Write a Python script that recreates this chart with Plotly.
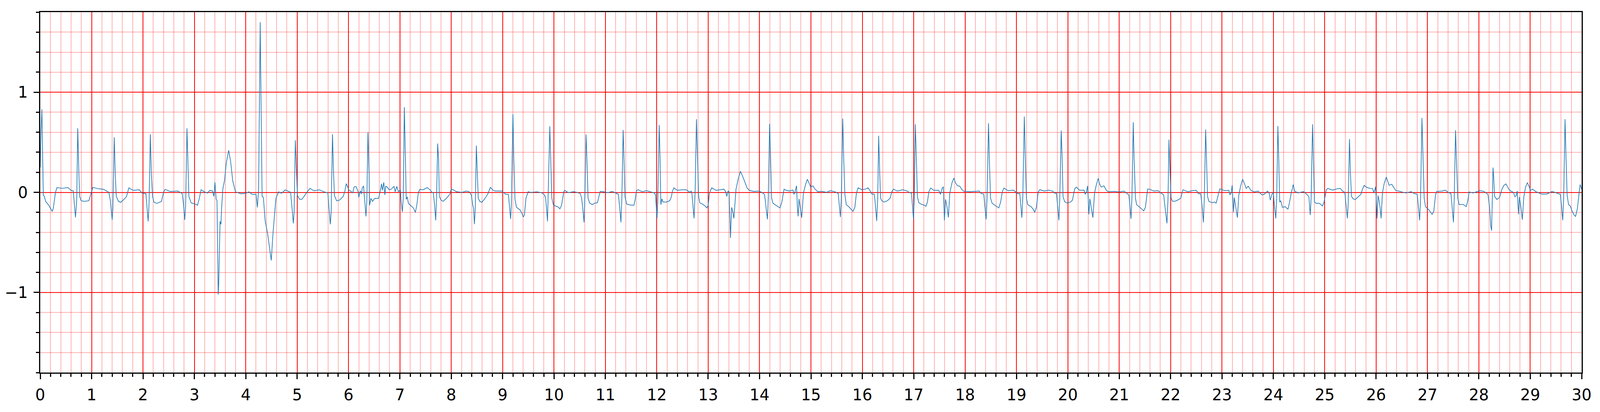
import plotly.graph_objects as go

# ECG trace, 30 s strip (time in s, amplitude in mV)
t_0 = [0, 0.015, 0.032, 0.046, 0.06, 0.08, 0.104, 0.167, 0.21, 0.234, 0.254, 0.297, 0.326, 0.427, 0.54, 0.6,
       0.643, 0.686, 0.71, 0.73, 0.753, 0.767, 0.796, 0.86, 0.946, 0.99, 1.024, 1.12, 1.234, 1.335, 1.364, 1.40,
       1.414, 1.44, 1.46, 1.48, 1.523, 1.566, 1.638, 1.68, 1.725, 1.81, 1.927, 1.984, 2.057, 2.1, 2.117, 2.143,
       2.163, 2.186, 2.215, 2.273, 2.36, 2.403, 2.43, 2.532, 2.677, 2.764, 2.79, 2.813, 2.83, 2.856, 2.88, 2.893,
       2.936, 3.02, 3.06, 3.094, 3.13, 3.196, 3.253, 3.30]
v_0 = [0.25, 0.6, 0.83, 0.45, -0.03, -0.04, -0.09, -0.13, -0.17, -0.19, -0.16, 0.0, 0.047, 0.04, 0.047, 0.02,
       0.013, -0.25, -0.08, 0.64, 0.18, -0.04, -0.084, -0.09, -0.084, -0.013, 0.05, 0.037, 0.03, 0.0, -0.08, -0.275,
       -0.16, 0.55, 0.18, -0.04, -0.09, -0.1, -0.066, -0.04, 0.045, 0.02, 0.026, -0.008, -0.013, -0.29, -0.13, 0.58,
       0.18, -0.04, -0.1, -0.11, -0.09, 0.005, 0.03, 0.008, 0.013, -0.013, -0.13, -0.275, -0.13, 0.64, 0.21, -0.04,
       -0.105, -0.118, -0.13, -0.066, 0.026, 0.005, -0.008, 0.02]

t_1 = [3.35, 3.38, 3.40, 3.425, 3.44, 3.464, 3.475, 3.50, 3.517, 3.53, 3.554, 3.587, 3.62, 3.668, 3.705, 3.748,
       3.80, 3.91, 3.995, 4.06, 4.124, 4.20, 4.227, 4.25, 4.281, 4.307, 4.318, 4.343, 4.378, 4.425, 4.496, 4.533,
       4.587, 4.64, 4.694, 4.77, 4.873, 4.898, 4.926, 4.941, 4.965, 4.989, 5.006, 5.049, 5.092, 5.135, 5.21, 5.253,
       5.328, 5.436, 5.522, 5.597, 5.619, 5.645, 5.662, 5.688, 5.709, 5.726, 5.769, 5.823, 5.898, 5.93, 5.956,
       6.006, 6.081, 6.109, 6.146, 6.189, 6.2, 6.232, 6.253, 6.268, 6.292, 6.313, 6.34, 6.357, 6.378, 6.4, 6.41,
       6.436, 6.468]
v_1 = [0.015, -0.04, 0.10, -0.07, -0.08, -1.02, -0.9, -0.29, -0.32, -0.16, 0.035, 0.12, 0.29, 0.42, 0.31, 0.11,
       0.005, -0.015, -0.01, 0.005, -0.02, -0.02, -0.15, 0.035, 1.70, 0.29, -0.04, -0.05, -0.285, -0.41, -0.68, -0.39,
       -0.06, 0.005, -0.01, 0.025, 0.0, -0.14, -0.31, -0.2, 0.52, 0.19, -0.033, -0.07, -0.07, -0.04, 0.015, 0.04,
       0.015, 0.025, 0.005, -0.005, -0.14, -0.32, -0.2, 0.58, 0.19, -0.033, -0.085, -0.078, -0.04, 0.015, 0.087,
       0.025, -0.005, 0.054, 0.058, 0.005, -0.05, 0.015, -0.015, 0.045, 0.064, -0.08, -0.24, -0.08, 0.6, 0.19, -0.13,
       -0.06, -0.09]

t_2 = [6.51, 6.585, 6.617, 6.643, 6.66, 6.686, 6.708, 6.725, 6.757, 6.79, 6.83, 6.886, 6.908, 6.94, 6.972, 7.009,
       7.026, 7.047, 7.065, 7.086, 7.108, 7.123, 7.144, 7.166, 7.22, 7.262, 7.3, 7.327, 7.36, 7.39, 7.456, 7.53,
       7.585, 7.617, 7.65, 7.675, 7.697, 7.714, 7.735, 7.753, 7.768, 7.8, 7.843, 7.907, 7.972, 7.998, 8.037, 8.1,
       8.21, 8.295, 8.35, 8.39, 8.413, 8.434, 8.45, 8.467, 8.488, 8.505, 8.525, 8.553, 8.596, 8.66, 8.714, 8.761,
       8.81, 8.854, 8.983, 9.026, 9.058, 9.112, 9.13, 9.155, 9.17, 9.2, 9.217, 9.24, 9.27, 9.337, 9.374, 9.4, 9.423,
       9.454, 9.495, 9.542]
v_2 = [-0.06, -0.06, 0.013, 0.085, 0.02, 0.1, -0.026, 0.06, 0.052, 0.026, 0.03, 0.06, 0.006, 0.058, 0.006, 0.026,
       -0.1, -0.195, -0.06, 0.85, 0.33, -0.07, -0.045, -0.11, -0.136, -0.156, -0.2, -0.136, 0.0, 0.03, 0.026, 0.048,
       0.026, 0.004, -0.006, -0.123, -0.28, -0.058, 0.487, 0.33, -0.04, -0.078, -0.09, -0.058, -0.02, 0.032, 0.026,
       0.006, 0.0, 0.013, 0.006, -0.026, -0.11, -0.16, -0.318, -0.16, 0.467, 0.253, -0.058, -0.09, -0.1, -0.058,
       -0.013, 0.05, 0.022, 0.013, 0.013, -0.006, -0.02, -0.02, -0.123, -0.266, -0.12, 0.78, 0.33, -0.07, -0.15,
       -0.175, -0.208, -0.247, -0.227, -0.058, 0.006, 0.0]

t_3 = [9.673, 9.76, 9.813, 9.835, 9.856, 9.873, 9.895, 9.918, 9.935, 9.957, 9.985, 10.028, 10.082, 10.114, 10.146,
       10.19, 10.21, 10.275, 10.382, 10.447, 10.511, 10.537, 10.56, 10.584, 10.6, 10.623, 10.64, 10.662, 10.694,
       10.747, 10.79, 10.844, 10.872, 10.898, 10.96, 11.047, 11.134, 11.2, 11.252, 11.28, 11.302, 11.32, 11.345,
       11.362, 11.381, 11.414, 11.478, 11.553, 11.575, 11.607, 11.64, 11.714, 11.8, 11.886, 11.95, 11.976, 11.989,
       12.004, 12.021, 12.047, 12.064, 12.079, 12.1, 12.122, 12.187, 12.251, 12.283, 12.305, 12.333, 12.4, 12.51,
       12.574, 12.64]
v_3 = [0.004, -0.004, -0.026, -0.052, -0.175, -0.29, 0.175, 0.66, 0.33, -0.058, -0.123, -0.136, -0.147, -0.165,
       -0.13, 0.006, 0.02, -0.003, 0.006, 0.0, -0.013, -0.058, -0.162, -0.3, -0.058, 0.578, 0.33, -0.058, -0.108,
       -0.123, -0.108, -0.104, -0.045, 0.009, 0.006, -0.003, 0.009, -0.006, -0.02, -0.162, -0.3, -0.058, 0.623, 0.33,
       -0.045, -0.117, -0.126, -0.13, -0.084, 0.02, 0.026, 0.006, 0.017, 0.004, -0.006, -0.026, -0.162, -0.26,
       -0.058, 0.673, 0.33, -0.123, -0.065, -0.097, -0.097, -0.084, -0.045, 0.013, 0.045, 0.02, 0.026, 0.026, 0.0]

t_4 = [12.67, 12.685, 12.708, 12.725, 12.746, 12.772, 12.794, 12.815, 12.837, 12.897, 12.94, 12.972, 13.0, 13.026,
       13.069, 13.155, 13.24, 13.305, 13.338, 13.363, 13.387, 13.406, 13.424, 13.434, 13.456, 13.477, 13.5, 13.52,
       13.542, 13.585, 13.628, 13.67, 13.714, 13.757, 13.8, 13.886, 13.994, 14.058, 14.097, 14.123, 14.153, 14.17,
       14.196, 14.215, 14.235, 14.262, 14.338, 14.398, 14.434, 14.477, 14.51, 14.574, 14.65, 14.67, 14.692, 14.72,
       14.735, 14.75, 14.768, 14.79, 14.82, 14.854, 14.892, 14.929, 14.961, 14.994, 15.037, 15.08, 15.133, 15.219,
       15.305, 15.38, 15.477, 15.531, 15.553, 15.574, 15.591, 15.619, 15.638, 15.66, 15.688, 15.735]
v_4 = [0.013, -0.02, -0.15, -0.26, 0.006, 0.73, 0.33, -0.045, -0.104, -0.12, -0.136, -0.156, -0.13, -0.006, 0.045,
       0.02, 0.026, 0.032, 0.009, -0.04, 0.013, 0.006, -0.29, -0.455, -0.15, -0.188, -0.26, -0.123, 0.032, 0.136,
       0.21, 0.162, 0.104, 0.045, 0.02, 0.009, 0.013, -0.006, -0.022, -0.136, -0.27, -0.058, 0.684, 0.33, -0.058,
       -0.11, -0.136, -0.156, -0.097, 0.032, 0.022, 0.013, 0.022, -0.02, 0.009, 0.065, -0.136, -0.24, -0.065, -0.15,
       -0.253, -0.006, 0.071, 0.13, 0.097, 0.052, 0.065, 0.032, 0.006, 0.009, 0.0, 0.017, 0.004, -0.013, -0.123,
       -0.247, -0.058, 0.736, 0.33, -0.02, -0.123, -0.143]

t_5 = [15.82, 15.854, 15.886, 15.918, 15.994, 16.058, 16.112, 16.155, 16.187, 16.234, 16.256, 16.28, 16.3, 16.318,
       16.338, 16.355, 16.38, 16.424, 16.488, 16.542, 16.574, 16.606, 16.68, 16.79, 16.875, 16.918, 16.957, 16.978,
       16.996, 17.01, 17.032, 17.052, 17.073, 17.1, 17.155, 17.209, 17.24, 17.267, 17.295, 17.331, 17.391, 17.488,
       17.52, 17.553, 17.576, 17.598, 17.62, 17.65, 17.675, 17.703, 17.746, 17.783, 17.811, 17.854, 17.897, 17.94,
       17.983, 18.1, 18.187, 18.273, 18.316, 18.363, 18.385, 18.41, 18.428, 18.456, 18.473, 18.495, 18.527, 18.585,
       18.656, 18.692, 18.725, 18.757, 18.832]
v_5 = [-0.19, -0.15, -0.006, 0.045, 0.026, 0.032, 0.045, 0.013, -0.017, -0.02, -0.136, -0.286, -0.058, 0.565, 0.2,
       -0.058, -0.084, -0.097, -0.084, -0.058, 0.006, 0.032, 0.013, 0.026, 0.013, -0.004, -0.006, -0.15, -0.27,
       -0.058, 0.68, 0.33, -0.045, -0.104, -0.12, -0.13, -0.139, -0.097, 0.006, 0.043, 0.02, 0.02, -0.02, 0.039,
       0.056, -0.28, -0.07, -0.15, -0.25, -0.006, 0.097, 0.143, 0.097, 0.065, 0.061, 0.026, 0.009, 0.006, 0.009,
       0.013, -0.013, -0.017, -0.136, -0.27, -0.058, 0.69, 0.33, -0.058, -0.11, -0.13, -0.156, -0.097, 0.006, 0.043,
       0.017]

t_6 = [18.94, 18.994, 19.026, 19.065, 19.086, 19.105, 19.123, 19.153, 19.172, 19.194, 19.22, 19.284, 19.327,
       19.355, 19.387, 19.424, 19.456, 19.542, 19.628, 19.703, 19.746, 19.778, 19.804, 19.826, 19.843, 19.871,
       19.89, 19.907, 19.94, 19.994, 20.058, 20.09, 20.133, 20.166, 20.23, 20.316, 20.338, 20.363, 20.385, 20.409,
       20.428, 20.456, 20.488, 20.52, 20.553, 20.591, 20.617, 20.65, 20.703, 20.746, 20.789, 20.918, 21.004, 21.09,
       21.155, 21.187, 21.209, 21.23, 21.247, 21.273, 21.29, 21.316, 21.338, 21.402, 21.477, 21.51, 21.553, 21.585,
       21.671, 21.757, 21.811, 21.865, 21.886, 21.929, 21.95, 21.968, 21.99]
v_6 = [0.022, 0.0, -0.013, -0.013, -0.136, -0.253, -0.058, 0.757, 0.33, -0.058, -0.123, -0.143, -0.169, -0.2,
       -0.15, 0.006, 0.026, 0.013, 0.022, 0.013, -0.009, -0.006, -0.15, -0.28, -0.058, 0.617, 0.33, -0.045, -0.095,
       -0.108, -0.095, -0.078, 0.035, 0.052, 0.02, 0.022, -0.02, 0.006, 0.065, -0.22, -0.065, -0.162, -0.253, -0.006,
       0.071, 0.14, 0.084, 0.052, 0.065, 0.022, 0.006, 0.009, 0.004, 0.013, -0.013, -0.026, -0.136, -0.264, -0.058,
       0.7, 0.33, -0.058, -0.123, -0.15, -0.186, -0.15, 0.032, 0.032, 0.013, 0.017, -0.006, -0.026, -0.123, -0.31,
       -0.058, 0.526, 0.2]

t_7 = [22.01, 22.037, 22.1, 22.166, 22.198, 22.24, 22.338, 22.424, 22.5, 22.542, 22.585, 22.613, 22.639, 22.656,
       22.682, 22.699, 22.72, 22.746, 22.81, 22.854, 22.886, 22.918, 22.957, 23.047, 23.133, 23.155, 23.18, 23.198,
       23.224, 23.24, 23.273, 23.3, 23.327, 23.36, 23.402, 23.44, 23.47, 23.51, 23.563, 23.628, 23.703, 23.778,
       23.821, 23.886, 23.918, 23.94, 23.972, 23.998, 24.026, 24.047, 24.065, 24.088, 24.105, 24.123, 24.144,
       24.176, 24.23, 24.284, 24.316, 24.348, 24.37, 24.387, 24.413, 24.477, 24.553, 24.596, 24.65, 24.692, 24.718,
       24.735, 24.763, 24.78, 24.8, 24.832, 24.897, 24.955, 24.987, 25.03]
v_7 = [-0.058, -0.09, -0.087, -0.069, -0.058, 0.026, 0.006, 0.017, 0.02, -0.013, -0.013, -0.136, -0.3, -0.058,
       0.627, 0.33, -0.045, -0.09, -0.104, -0.097, -0.108, -0.045, 0.035, 0.017, 0.02, -0.026, -0.006, 0.071, -0.2,
       -0.052, -0.162, -0.253, -0.032, 0.058, 0.13, 0.084, 0.039, 0.061, 0.02, 0.004, 0.013, -0.026, -0.02, 0.013,
       -0.006, -0.078, -0.02, 0.0, -0.162, -0.26, -0.058, 0.662, 0.33, -0.097, -0.084, -0.15, -0.143, -0.169, -0.097,
       -0.006, 0.039, 0.078, 0.013, -0.006, 0.004, 0.006, -0.02, -0.045, -0.227, -0.058, 0.68, 0.33, -0.097, -0.11,
       -0.11, -0.136, -0.097, 0.026]

t_8 = [25.058, 25.155, 25.24, 25.305, 25.344, 25.391, 25.413, 25.44, 25.456, 25.482, 25.5, 25.52, 25.553, 25.596,
       25.65, 25.703, 25.735, 25.768, 25.822, 25.886, 25.929, 25.955, 25.972, 25.99, 26.004, 26.019, 26.037, 26.058,
       26.08, 26.097, 26.123, 26.155, 26.198, 26.252, 26.305, 26.38, 26.488, 26.574, 26.682, 26.746, 26.8, 26.822,
       26.847, 26.865, 26.892, 26.914, 26.935, 26.961, 27.026, 27.09, 27.123, 27.155, 27.176, 27.284, 27.348,
       27.391, 27.456, 27.482, 27.505, 27.52, 27.546, 27.563, 27.589, 27.617, 27.692, 27.753, 27.785]
v_8 = [0.039, 0.022, 0.035, 0.039, 0.013, 0.0, -0.11, -0.26, -0.123, 0.532, 0.2, -0.039, -0.065, -0.071, -0.045,
       -0.02, 0.032, 0.069, 0.048, 0.039, 0.039, 0.0, 0.02, 0.056, -0.084, -0.262, -0.032, -0.084, -0.162, -0.26,
       -0.006, 0.084, 0.153, 0.071, 0.08, 0.02, 0.006, -0.006, 0.006, -0.013, -0.02, -0.15, -0.28, -0.058, 0.743,
       0.33, -0.058, -0.143, -0.175, -0.22, -0.188, -0.032, 0.009, 0.013, 0.022, 0.004, -0.013, -0.162, -0.3, -0.058,
       0.62, 0.33, -0.058, -0.123, -0.12, -0.143, -0.084]

t_9 = [27.81, 27.886, 28.026, 28.1, 28.176, 28.209, 28.23, 28.247, 28.262, 28.275, 28.29, 28.305, 28.348, 28.402,
       28.445, 28.488, 28.527, 28.563, 28.596, 28.671, 28.703, 28.729, 28.746, 28.772, 28.789, 28.822, 28.845,
       28.875, 28.908, 28.944, 28.972, 29.004, 29.043, 29.112, 29.22, 29.327, 29.424, 29.499, 29.585, 29.606,
       29.632, 29.65, 29.677, 29.697, 29.718, 29.746, 29.778, 29.81, 29.854, 29.882, 29.918, 29.95, 29.972, 30.0]
v_9 = [0.004, -0.006, 0.017, 0.009, -0.02, -0.15, -0.33, -0.383, -0.058, 0.247, 0.136, -0.039, -0.071, -0.052,
       0.026, 0.071, 0.084, 0.052, 0.02, 0.0, -0.045, -0.032, 0.013, -0.22, -0.045, -0.162, -0.273, -0.045, 0.052,
       0.097, 0.065, 0.02, 0.032, 0.006, -0.017, -0.017, 0.009, -0.004, -0.02, -0.123, -0.28, -0.058, 0.73, 0.33,
       -0.032, -0.123, -0.136, -0.182, -0.227, -0.24, -0.162, -0.006, 0.078, 0.032]

time_s = t_0 + t_1 + t_2 + t_3 + t_4 + t_5 + t_6 + t_7 + t_8 + t_9
ecg_mv = v_0 + v_1 + v_2 + v_3 + v_4 + v_5 + v_6 + v_7 + v_8 + v_9

# the browser window tops out at 4096 px wide, so the page is laid out for 4096x1055
W, H = 4096, 1055

fig = go.Figure(go.Scatter(
    x=time_s, y=ecg_mv, mode="lines",
    line=dict(color="#1f77b4", width=1.7),
    hoverinfo="skip", showlegend=False,
))

# ECG paper style grid: red major lines, pale red minor lines
axis_common = dict(
    dtick=1, tick0=0,
    showgrid=True, gridcolor="#ff0000", gridwidth=1.6,
    minor=dict(dtick=0.2, showgrid=True, gridcolor="rgba(255,0,0,0.3)", gridwidth=1.6,
               ticks="outside", ticklen=8, tickwidth=2.5, tickcolor="black"),
    ticks="outside", ticklen=14, tickwidth=2.7, tickcolor="black",
    showline=True, linecolor="black", linewidth=2.7, mirror=True,
    zeroline=False,
    tickfont=dict(family="DejaVu Sans", size=40, color="black"),
)

fig.update_layout(
    width=W, height=H,
    margin=dict(l=103, r=47, t=31, b=101, autoexpand=False),
    paper_bgcolor="white", plot_bgcolor="white",
    xaxis=dict(range=[0, 30], ticklabelstandoff=6, **axis_common),
    yaxis=dict(range=[-1.8, 1.8], ticklabelstandoff=7, **axis_common),
)

fig.write_html("out.html", config={"displayModeBar": False},
               post_script="document.body.style.margin='0';"
                           "document.documentElement.style.overflow='hidden';")
